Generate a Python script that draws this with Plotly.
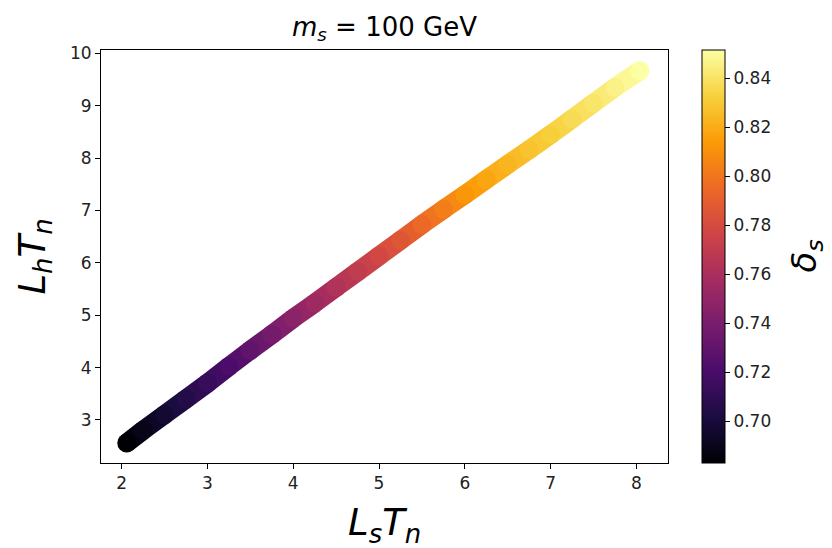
import plotly.graph_objects as go
from plotly.colors import sample_colorscale

# Data
ls_tn = [2.06, 2.25, 2.5, 2.75, 3.0, 3.25, 3.5, 3.75, 4.0, 4.25, 4.5, 4.75, 5.0,
         5.25, 5.5, 5.75, 6.0, 6.25, 6.5, 6.75, 7.0, 7.25, 7.5, 7.75, 8.04]
lh_tn = [2.56, 2.80, 3.10, 3.40, 3.70, 4.02, 4.33, 4.63, 4.94, 5.23, 5.53, 5.83, 6.13,
         6.43, 6.73, 7.02, 7.30, 7.59, 7.88, 8.16, 8.45, 8.75, 9.05, 9.35, 9.67]
delta_s = [0.683, 0.689, 0.697, 0.705, 0.713, 0.721, 0.730, 0.738, 0.747, 0.755, 0.763,
           0.770, 0.778, 0.786, 0.795, 0.803, 0.812, 0.818, 0.823, 0.828, 0.832, 0.837,
           0.841, 0.846, 0.8515]
cbar_ticks = [0.70, 0.72, 0.74, 0.76, 0.78, 0.80, 0.82, 0.84]

cmin, cmax = min(delta_s), max(delta_s)
MS = 19
FONT = "DejaVu Sans"
TICKFONT = dict(family=FONT, size=17, color="#222")

fig = go.Figure()

# Segments between consecutive points, coloured by mean delta
for i in range(len(ls_tn) - 1):
    d = 0.5 * (delta_s[i] + delta_s[i + 1])
    t = (d - cmin) / (cmax - cmin)
    col = sample_colorscale("Inferno", [t])[0]
    fig.add_trace(go.Scatter(
        x=[ls_tn[i], ls_tn[i + 1]], y=[lh_tn[i], lh_tn[i + 1]],
        mode="lines", line=dict(color=col, width=MS), showlegend=False,
        hoverinfo="skip"))

fig.add_trace(go.Scatter(
    x=ls_tn, y=lh_tn, mode="markers", showlegend=False,
    marker=dict(size=MS, color=delta_s, colorscale="Inferno", cmin=cmin, cmax=cmax,
                line=dict(width=0),
                colorbar=dict(thickness=23, thicknessmode="pixels", len=1,
                              lenmode="fraction", y=0.5, yanchor="middle",
                              x=1.06, xanchor="left", xref="paper",
                              xpad=0, ypad=0,
                              outlinewidth=1, outlinecolor="black",
                              ticks="outside", ticklen=5, tickcolor="black",
                              tickvals=cbar_ticks, tickformat=".2f",
                              tickfont=TICKFONT))))

axis_common = dict(showgrid=False, zeroline=False, showline=True, linecolor="black",
                   linewidth=1, mirror=True, ticks="outside", ticklen=5,
                   tickcolor="black", tickfont=TICKFONT)

fig.update_layout(
    width=832, height=548,
    margin=dict(l=101, r=164, t=50, b=85),
    plot_bgcolor="white", paper_bgcolor="white",
    xaxis=dict(range=[1.76, 8.368], tickvals=[2, 3, 4, 5, 6, 7, 8], **axis_common),
    yaxis=dict(range=[2.177, 10.065], tickvals=[3, 4, 5, 6, 7, 8, 9, 10], **axis_common),
    annotations=[
        dict(text="<i>m<sub>s</sub></i> = 100 GeV", x=0.5, y=1.0, xref="paper",
             yref="paper", yshift=22, yanchor="middle", showarrow=False,
             xanchor="center", font=dict(family=FONT, size=26, color="black")),
        dict(text="<i>L<sub>s</sub>T<sub>n</sub></i>", x=0.5, y=0, xref="paper",
             yref="paper", yshift=-62, yanchor="middle", showarrow=False,
             xanchor="center", font=dict(family=FONT, size=37, color="black")),
        dict(text="<i>L<sub>h</sub>T<sub>n</sub></i>", x=0, y=0.5, xref="paper",
             yref="paper", xshift=-67, xanchor="center", yanchor="middle",
             showarrow=False, textangle=-90,
             font=dict(family=FONT, size=37, color="black")),
        dict(text="<i>δ<sub>s</sub></i>", x=1.0, y=0.5, xref="paper",
             yref="paper", xshift=138, xanchor="center", yanchor="middle",
             showarrow=False, textangle=-90,
             font=dict(family=FONT, size=34, color="black")),
    ],
)

fig.write_html("out.html")
